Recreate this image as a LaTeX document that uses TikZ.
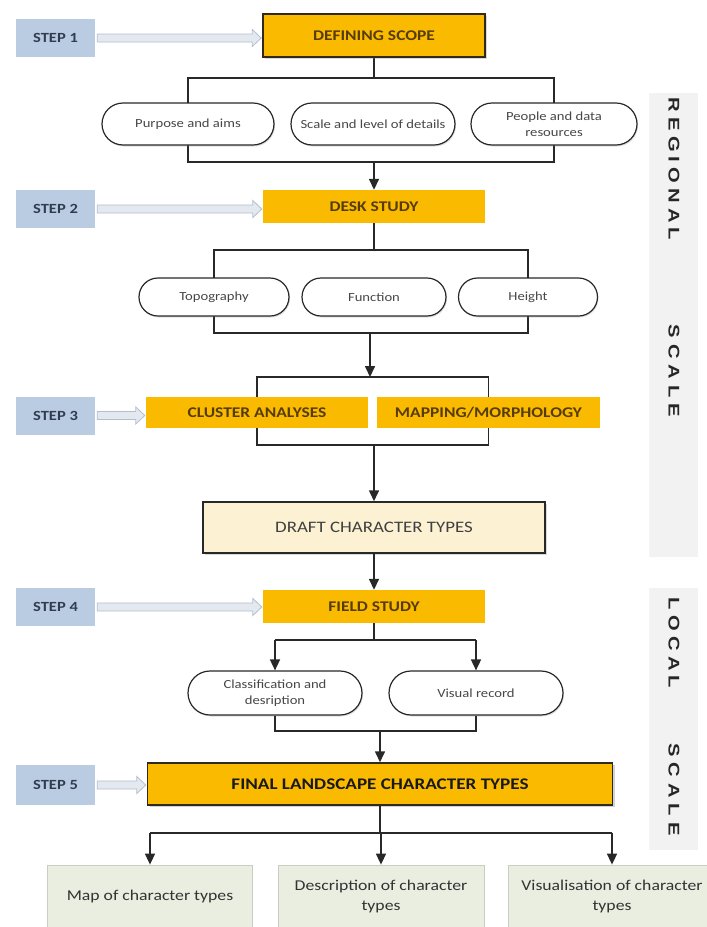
\documentclass[tikz,border=0pt]{standalone}
\usepackage{fontspec}
\setmainfont{Carlito}[FakeStretch=1.18]
\newfontfamily\barfont{Liberation Sans}[FakeStretch=1.3]
\usetikzlibrary{arrows.meta,shadows,backgrounds,calc}
\definecolor{orng}{RGB}{250,186,0}
\definecolor{edge}{RGB}{50,42,25}
\definecolor{ortext}{RGB}{85,60,10}
\definecolor{stepblue}{RGB}{186,204,226}
\definecolor{steptext}{RGB}{50,60,80}
\definecolor{cream}{RGB}{252,241,210}
\definecolor{sage}{RGB}{233,238,225}
\definecolor{sageedge}{RGB}{200,206,195}
\definecolor{bargray}{RGB}{242,242,242}
\definecolor{hline}{RGB}{178,190,208}
\definecolor{hfill}{RGB}{228,233,240}
\definecolor{linecol}{RGB}{40,40,40}
\newcommand\steparrow[2]{%
  \draw[harrow] let \p1=(#1.east), \p2=(#2.west) in
  (\x1+2pt,\y1+4pt) -- (\x2-10pt,\y1+4pt) -- (\x2-10pt,\y1+8.5pt) -- (\x2-1pt,\y1)
  -- (\x2-10pt,\y1-8.5pt) -- (\x2-10pt,\y1-4pt) -- (\x1+2pt,\y1-4pt) -- cycle;}
\begin{document}
\begin{tikzpicture}[x=1pt,y=-1pt,
  stepbox/.style={fill=stepblue, minimum width=79pt, minimum height=38pt, inner sep=0pt,
    text=steptext, font=\bfseries\fontsize{14}{16}\selectfont},
  orbox/.style={fill=orng, inner sep=0pt, text=ortext, font=\bfseries\fontsize{14.8}{17}\selectfont},
  roundbox/.style={draw=linecol, line width=1.2pt, fill=white, rounded corners=21pt, inner sep=0pt,
    align=center, text=black!72, font=\fontsize{12.4}{16}\selectfont,
    drop shadow={shadow xshift=1pt, shadow yshift=-1.5pt, opacity=.25}},
  outbox/.style={draw=sageedge, line width=0.8pt, fill=sage, inner sep=0pt, align=center,
    minimum height=62pt, text=black!80, font=\fontsize{15}{20}\selectfont},
  conn/.style={draw=linecol, line width=1.6pt},
  arr/.style={conn, -{Triangle[length=11pt,width=10pt]}},
  harrow/.style={draw=hline, fill=hfill, line width=0.8pt},
  bar/.style={fill=bargray, inner sep=0pt, minimum width=48pt,
    drop shadow={shadow xshift=-1pt, shadow yshift=0pt, opacity=.08}},
  bartext/.style={rotate=-90, text=black!85, font=\barfont\bfseries\fontsize{15.5}{17}\selectfont, inner sep=0pt}
]
\useasboundingbox (0,0) rectangle (707,927);

% side bars
\node[bar, minimum height=464pt] (rb) at (674,325) {};
\node[bar, minimum height=262pt] (lb) at (674,719) {};
\node[bartext] (rt1) at (674,169) {R\kern5.1pt E\kern5.1pt G\kern5.1pt I\kern5.1pt O\kern5.1pt N\kern5.1pt A\kern5.1pt L};
\node[bartext] (rt2) at (674,371) {S\kern6pt C\kern6pt A\kern6pt L\kern6pt E};
\node[bartext] (lt1) at (674,643) {L\kern5.3pt O\kern5.3pt C\kern5.3pt A\kern5.3pt L};
\node[bartext] (lt2) at (674,789.5) {S\kern6pt C\kern6pt A\kern6pt L\kern6pt E};

% step boxes
\node[stepbox] (s1) at (55.5,38) {STEP 1};
\node[stepbox] (s2) at (55.5,209) {STEP 2};
\node[stepbox] (s3) at (55.5,415.5) {STEP 3};
\node[stepbox] (s4) at (55.5,607) {STEP 4};
\node[stepbox, minimum height=40pt] (s5) at (55.5,785) {STEP 5};

% main boxes
\node[orbox, draw=edge, line width=1.5pt, minimum width=222pt, minimum height=43pt,
  drop shadow={shadow xshift=1.5pt, shadow yshift=-1.5pt, opacity=.3}] (def) at (374,35.5) {DEFINING SCOPE};
\node[orbox, minimum width=222pt, minimum height=33pt] (desk) at (374,206.5) {DESK STUDY};
\node[orbox, minimum width=222pt, minimum height=31pt] (clu) at (257,412.5) {CLUSTER ANALYSES};
\node[orbox, minimum width=223pt, minimum height=31pt] (map) at (488.5,412.5) {MAPPING/MORPHOLOGY};
\node[draw=linecol, line width=1.5pt, fill=cream, minimum width=342pt, minimum height=51pt, inner sep=0pt,
  text=black!75, font=\fontsize{16}{18}\selectfont,
  drop shadow={shadow xshift=1.5pt, shadow yshift=-1.5pt, opacity=.3}] (draft) at (374,527.5) {DRAFT CHARACTER TYPES};
\node[orbox, minimum width=222pt, minimum height=33pt] (field) at (374,606.5) {FIELD STUDY};
\node[orbox, draw=edge, line width=1.5pt, minimum width=465pt, minimum height=42pt,
  font=\bfseries\fontsize{16.2}{18}\selectfont, text=black!90,
  drop shadow={shadow xshift=2pt, shadow yshift=-2pt, opacity=.35}] (final) at (380,784) {FINAL LANDSCAPE CHARACTER TYPES};

% rounded boxes
\node[roundbox, minimum width=172pt, minimum height=42pt] (p1) at (188,124) {Purpose and aims};
\node[roundbox, minimum width=164pt, minimum height=42pt] (p2) at (373,124) {Scale and level of details};
\node[roundbox, minimum width=166pt, minimum height=42pt] (p3) at (554,124) {People and data\\resources};
\node[roundbox, minimum width=150pt, minimum height=38pt, rounded corners=19pt] (t) at (214,297) {Topography};
\node[roundbox, minimum width=144pt, minimum height=38pt, rounded corners=19pt] (f) at (374,297) {Function};
\node[roundbox, minimum width=139pt, minimum height=38pt, rounded corners=19pt] (h) at (528,297) {Height};
\node[roundbox, minimum width=174pt, minimum height=44pt, rounded corners=22pt] (cl) at (275,693) {Classification and\\desription};
\node[roundbox, minimum width=174pt, minimum height=44pt, rounded corners=22pt] (vr) at (476,693) {Visual record};

% output boxes
\node[outbox, minimum width=205pt] (o1) at (150,896) {Map of character types};
\node[outbox, minimum width=206pt] (o2) at (381,896) {Description of character\\types};
\node[outbox, minimum width=208pt] (o3) at (612,896) {Visualisation of character\\types};

% junction coordinates
\coordinate (j1) at (374,78);
\coordinate (j1b) at (374,162);
\coordinate (j2) at (374,250);
\coordinate (j2b) at (370,333);
\coordinate (j3) at (370,377);
\coordinate (j3b) at (374,445);
\coordinate (j4) at (374,640);
\coordinate (j5) at (380,731);
\coordinate (j6) at (380,833);

\begin{pgfonlayer}{background}
\draw[conn] (def.south) -- (j1);
\draw[conn] (p1.center |- j1) rectangle (p3.center |- j1b);
\draw[conn] (desk.south) -- (j2);
\draw[conn] (t.center |- j2) rectangle (h.center |- j2b);
\draw[conn] (clu.center |- j3) rectangle (map.center |- j3b);
\end{pgfonlayer}

\draw[arr] (j1b) -- (desk.north);
\draw[arr] (j2b) -- (j3);
\draw[arr] (j3b) -- (draft.north);
\draw[arr] (draft.south) -- (field.north);
\draw[conn] (field.south) -- (j4);
\draw[conn] (cl.north |- j4) -- (vr.north |- j4);
\draw[arr] (cl.north |- j4) -- (cl.north);
\draw[arr] (vr.north |- j4) -- (vr.north);
\draw[conn] (cl.south) -- (cl.south |- j5) -- (vr.south |- j5) -- (vr.south);
\draw[arr] (j5) -- (final.north);
\draw[conn] (final.south) -- (j6);
\draw[conn] (o1.north |- j6) -- (o3.north |- j6);
\draw[arr] (o1.north |- j6) -- (o1.north);
\draw[arr] (o2.north |- j6) -- (o2.north);
\draw[arr] (o3.north |- j6) -- (o3.north);

% step arrows
\steparrow{s1}{def}
\steparrow{s2}{desk}
\steparrow{s3}{clu}
\steparrow{s4}{field}
\steparrow{s5}{final}
\end{tikzpicture}
\end{document}
